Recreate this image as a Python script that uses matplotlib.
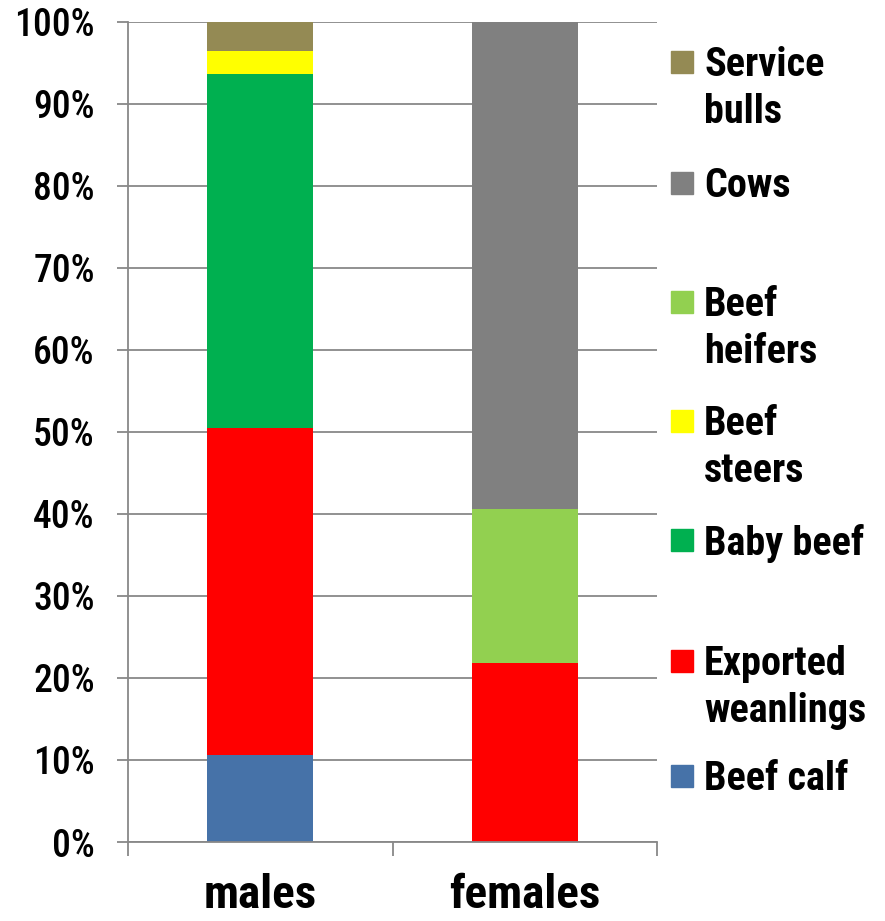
import matplotlib
matplotlib.use("Agg")
import matplotlib.pyplot as plt
from matplotlib.patches import Rectangle
import numpy as np

# data (percent of each sex)
groups = ["males", "females"]
series = ["Beef calf", "Exported weanlings", "Baby beef", "Beef steers",
          "Beef heifers", "Cows", "Service bulls"]
legend_labels = ["Beef calf", "Exported\nweanlings", "Baby beef", "Beef\nsteers",
                 "Beef\nheifers", "Cows", "Service\nbulls"]
males = [10.6, 39.9, 43.2, 2.8, 0.0, 0.0, 3.5]
females = [0.0, 21.8, 0.0, 0.0, 18.8, 59.4, 0.0]
colors = ["#4672A8", "#FF0000", "#00B050", "#FFFF00", "#92D050", "#808080", "#948A54"]
yticks = np.arange(0, 101, 10)

FONT = ["Roboto Condensed", "DejaVu Sans"]
GRID = "#888888"

fig = plt.figure(figsize=(8.85, 9.21), dpi=100)
ax = fig.add_axes([128 / 885, 1 - 842 / 921, (657 - 128) / 885, (842 - 22) / 921])

x = np.arange(len(groups))
bottom = np.zeros(len(groups))
for name, m, f, c in zip(series, males, females, colors):
    vals = np.array([m, f])
    ax.bar(x, vals, width=0.4, bottom=bottom, color=c, label=name, zorder=2)
    bottom += vals

ax.set_xlim(-0.5, 1.5)
ax.set_ylim(0, 100)
ax.set_yticks(yticks)
ax.set_yticklabels([f"{v}%" for v in yticks], family=FONT, fontsize=27, fontweight="medium")
ax.tick_params(axis="y", length=8, width=1.3, color=GRID, pad=16)
ax.yaxis.grid(True, color=GRID, linewidth=1.3, zorder=0)
ax.set_axisbelow(True)

ax.set_xticks(x)
ax.set_xticklabels(groups, family=FONT, fontsize=34, fontweight="bold")
ax.set_xticks([-0.5, 0.5, 1.5], minor=True)
ax.tick_params(axis="x", which="major", length=0, pad=22)
ax.tick_params(axis="x", which="minor", length=10, width=1.3, color=GRID)

for side in ["top", "right"]:
    ax.spines[side].set_visible(False)
for side in ["left", "bottom"]:
    ax.spines[side].set_color(GRID)
    ax.spines[side].set_linewidth(1.3)

# legend drawn by hand, top entry = last series
square_tops = [765, 650, 529, 410, 291, 172, 51]
for lab, c, top in zip(legend_labels, colors, square_tops):
    fig.patches.append(Rectangle((671 / 885, 1 - (top + 22) / 921), 22 / 885, 22 / 921,
                                 transform=fig.transFigure, color=c))
    fig.text(704 / 885, 1 - (top - 5) / 921, lab, family=FONT, fontsize=29,
             fontweight="bold", va="top", ha="left", linespacing=1.3)

fig.savefig("out.png", dpi=100)
